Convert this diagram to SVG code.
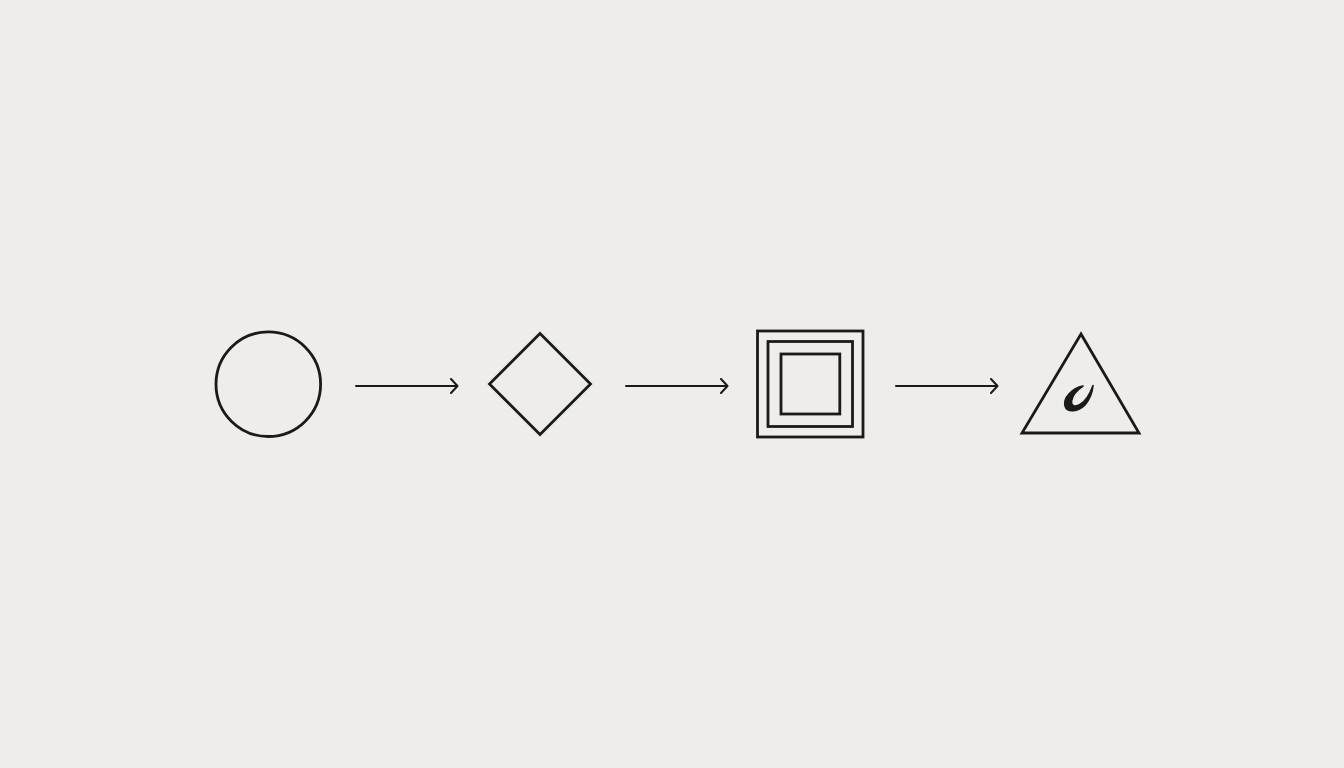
<svg xmlns="http://www.w3.org/2000/svg" width="1344" height="768" viewBox="0 0 1344 768">
<style>
.s{fill:none;stroke:#1a1a1a;stroke-width:2.8}
.c{fill:none;stroke:#1a1a1a;stroke-width:2;stroke-linecap:round;stroke-linejoin:round}
</style>
<defs>
<marker id="ah" markerWidth="12" markerHeight="16" refX="10" refY="8" orient="auto" markerUnits="userSpaceOnUse">
<path d="M4,1 L10.5,8 L4,15" fill="none" stroke="#1a1a1a" stroke-width="2" stroke-linecap="round" stroke-linejoin="round"/>
</marker>
</defs>
<rect width="1344" height="768" fill="#eeede9"/>
<g id="node-circle"><circle class="s" cx="268.3" cy="384.2" r="52.3"/></g>
<g id="node-diamond"><polygon class="s" points="540,333.5 590.5,384 540,434.5 489.5,384"/></g>
<g id="node-squares">
<rect class="s" x="757.5" y="331" width="105.5" height="106"/>
<rect class="s" x="768" y="341.5" width="84.5" height="85"/>
<rect class="s" x="781" y="354" width="58.8" height="60"/>
</g>
<g id="node-triangle">
<polygon class="s" points="1081,334 1139,433 1022,433"/>
<path d="M1083,386 C1072,388 1063,398 1065,406 C1067,413 1078,412 1085,405 C1090,399 1092.5,392 1093,385.5 C1090,394 1086,401 1080,404.5 C1075,407.5 1071,406 1071.5,401 C1072.5,395 1077,390 1083,386 Z" fill="#1a1a1a" stroke="#1a1a1a" stroke-width="1.6" stroke-linejoin="round"/>
</g>
<g id="connectors">
<line class="c" x1="356" y1="386" x2="457" y2="386" marker-end="url(#ah)"/>
<line class="c" x1="626" y1="386" x2="727" y2="386" marker-end="url(#ah)"/>
<line class="c" x1="896" y1="386" x2="997" y2="386" marker-end="url(#ah)"/>
</g>
</svg>
